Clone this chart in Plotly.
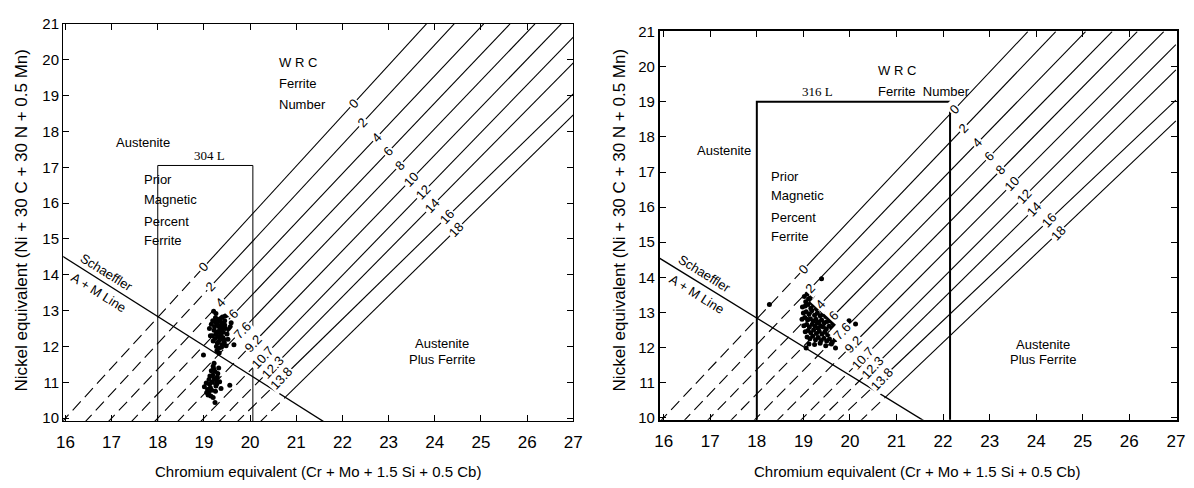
import plotly.graph_objects as go

# ---------------- data ----------------
# WRC iso-ferrite lines (shared by both panels)
fn_labels = ["0", "2", "4", "6", "8", "10", "12", "14", "16", "18"]
mpf_labels = ["0", "2", "4", "6", "7.6", "9.2", "10.7", "12.3", "13.8", ""]
line_x_bottom = [16.0, 16.5, 17.0, 17.5, 18.0, 18.5, 19.0, 19.4, 19.8, 20.3]   # Cr eq where line meets Ni eq = 10
line_x_top = [23.82, 24.42, 25.06, 25.63, 26.17, 26.74, 27.0, 27.0, 27.0, 27.0]
line_y_top = [21.0, 21.0, 21.0, 21.0, 21.0, 21.0, 20.63, 19.91, 19.05, 18.46]
mpf_label_y = [14.22, 13.67, 13.22, 12.91, 12.46, 12.09, 11.69, 11.42, 11.10, 10.60]
fn_label_y = [18.78, 18.24, 17.83, 17.43, 17.06, 16.66, 16.30, 15.93, 15.62, 15.26]

# Schaeffler A + M line
schaeffler_x = [15.9, 21.6]
schaeffler_y = [14.55, 9.9]

# alloy composition boxes
box304_x = [18.0, 18.0, 20.06, 20.06]
box304_y = [9.9, 17.05, 17.05, 9.9]
box316_x = [18.0, 18.0, 22.15, 22.15]
box316_y = [9.9, 19.0, 19.0, 9.9]

# 304L measured welds (upper and lower clusters)
w304_x = [19.21, 19.51, 19.59, 19.65, 18.99, 19.12, 19.25, 19.30, 19.35, 19.40, 19.45,
          19.28, 19.33, 19.38, 19.42, 19.18, 19.22, 19.26, 19.31, 19.36, 19.41, 19.47,
          19.20, 19.24, 19.29, 19.34, 19.39, 19.44, 19.50, 19.16, 19.23, 19.27, 19.32,
          19.37, 19.43, 19.48, 19.55, 19.19, 19.25, 19.30, 19.35, 19.40, 19.46, 19.28,
          19.33, 19.38, 19.26, 19.31, 19.36, 19.42, 19.52, 19.14, 19.57, 19.45, 19.30,
          19.22, 19.56, 19.24, 19.01, 19.37, 19.10, 19.15, 19.20, 19.25, 19.30, 19.12,
          19.18, 19.22, 19.27, 19.32, 19.08, 19.14, 19.19, 19.24, 19.29, 19.05, 19.11,
          19.16, 19.21, 19.26, 19.09, 19.13, 19.17, 19.20, 19.34, 19.06, 19.28]
w304_y = [12.98, 12.88, 12.66, 12.05, 11.76, 12.50, 12.80, 12.75, 12.70, 12.82, 12.60,
          12.62, 12.55, 12.48, 12.40, 12.30, 12.45, 12.35, 12.42, 12.30, 12.25, 12.50,
          12.15, 12.22, 12.10, 12.18, 12.05, 12.12, 12.35, 12.62, 12.55, 12.00, 11.95,
          12.38, 12.20, 12.02, 12.45, 12.72, 12.68, 12.28, 12.58, 12.65, 12.85, 11.88,
          11.82, 11.98, 12.92, 12.12, 12.78, 12.55, 12.20, 12.30, 12.55, 12.72, 12.40,
          11.53, 10.92, 10.44, 10.88, 10.83, 10.70, 10.62, 10.58, 10.75, 11.25, 10.95,
          11.00, 11.10, 11.05, 11.40, 10.80, 10.85, 11.20, 11.30, 11.15, 10.98, 11.08,
          11.32, 11.38, 10.90, 10.65, 11.18, 10.78, 11.45, 11.02, 10.72, 10.96]

# 316L measured welds
w316_x = [18.27, 19.39, 20.12, 19.98, 19.94, 19.06, 19.69,
          19.02, 19.08, 19.14, 19.20, 19.26, 19.05, 19.11, 19.17, 19.23, 19.29, 19.35,
          18.98, 19.04, 19.10, 19.16, 19.22, 19.28, 19.34, 19.40, 19.46,
          19.00, 19.06, 19.12, 19.18, 19.24, 19.30, 19.36, 19.42, 19.48, 19.54,
          18.97, 19.03, 19.09, 19.15, 19.21, 19.27, 19.33, 19.39, 19.45, 19.51, 19.57, 19.63,
          19.01, 19.07, 19.13, 19.19, 19.25, 19.31, 19.37, 19.43, 19.49, 19.55, 19.61, 19.67, 19.73,
          19.04, 19.10, 19.16, 19.22, 19.28, 19.34, 19.40, 19.46, 19.52, 19.58, 19.64, 19.70, 19.78, 19.85,
          19.08, 19.14, 19.20, 19.26, 19.32, 19.38, 19.44, 19.50, 19.56, 19.62, 19.68, 19.75,
          19.12, 19.24, 19.36, 19.48, 19.60, 19.72, 19.82, 19.90, 19.30, 19.55]
w316_y = [13.22, 13.96, 12.67, 12.76, 12.30, 11.98, 11.98,
          13.45, 13.52, 13.40, 13.48, 13.35, 13.30, 13.38, 13.28, 13.32, 13.25, 13.20,
          13.15, 13.18, 13.22, 13.12, 13.20, 13.10, 13.14, 13.05, 13.00,
          12.98, 13.02, 12.95, 13.05, 12.92, 12.98, 12.90, 12.94, 12.88, 12.85,
          12.80, 12.85, 12.78, 12.82, 12.75, 12.80, 12.72, 12.78, 12.70, 12.74, 12.76, 12.68,
          12.62, 12.65, 12.58, 12.66, 12.60, 12.55, 12.62, 12.58, 12.52, 12.60, 12.55, 12.62, 12.58,
          12.45, 12.48, 12.42, 12.50, 12.40, 12.46, 12.38, 12.44, 12.36, 12.42, 12.45, 12.48, 12.55, 12.62,
          12.30, 12.25, 12.32, 12.22, 12.28, 12.20, 12.26, 12.18, 12.24, 12.15, 12.22, 12.35,
          12.10, 12.08, 12.12, 12.05, 12.10, 12.28, 12.40, 12.52, 12.70, 12.90]

x_ticks = list(range(16, 28))
y_ticks = list(range(10, 22))
x_title = "Chromium equivalent (Cr + Mo + 1.5 Si + 0.5 Cb)"
y_title = "Nickel equivalent (Ni + 30 C + 30 N + 0.5 Mn)"

# ---------------- figure ----------------
W, H = 1194, 488
SANS = "Liberation Sans, Arial"
SERIF = "Liberation Serif, Times New Roman"


def x_on_line(k, y):
    return line_x_bottom[k] + (y - 10.0) * (line_x_top[k] - line_x_bottom[k]) / (line_y_top[k] - 10.0)


fig = go.Figure()
annotations = []

panels = [
    dict(xa="x", ya="y", px=w304_x, py=w304_y, bx=box304_x, by=box304_y, bw=1.0, name="304 L",
         name_pos=(19.13, 17.32), wrc=[("W R C", 20.59, 19.91), ("Ferrite", 20.59, 19.35), ("Number", 20.59, 18.76)],
         aus=(17.69, 17.70), prior_x=17.66, prior_y=[16.66, 16.11, 15.50, 14.97],
         apf=(24.15, 12.09, 11.64), sch=[(16.89, 14.06), (16.72, 13.52)],
         dom_x=[57 / W, 574 / W], dom_y=[1 - 425.7 / H, 1 - 16 / H], rx=[15.953, 27.0], ry=[9.908, 21.01],
         xt_x=315.5, yt_x=15, lw=1.4),
    dict(xa="x2", ya="y2", px=w316_x, py=w316_y, bx=box316_x, by=box316_y, bw=2.0, name="316 L",
         name_pos=(19.3, 19.3), wrc=[("W R C", 20.56, 19.90), ("Ferrite  Number", 20.56, 19.30)],
         aus=(17.3, 17.62), prior_x=18.26, prior_y=[16.86, 16.33, 15.71, 15.16],
         apf=(24.15, 12.07, 11.66), sch=[(16.87, 14.1), (16.72, 13.52)],
         dom_x=[661.7 / W, 1185.7 / W], dom_y=[1 - 424 / H, 1 - 24 / H], rx=[15.917, 27.02], ry=[9.936, 21.01],
         xt_x=922, yt_x=621, lw=1.8),
]

for i, p in enumerate(panels):
    xa, ya = p["xa"], p["ya"]
    common = dict(xaxis=xa, yaxis=ya, showlegend=False, hoverinfo="skip")
    dx, dy, sx, sy = [], [], [], []
    for k in range(len(line_x_bottom)):
        xm = x_on_line(k, mpf_label_y[k])
        dx += [x_on_line(k, 9.85), xm, None]
        dy += [9.85, mpf_label_y[k], None]
        sx += [xm, line_x_top[k], None]
        sy += [mpf_label_y[k], line_y_top[k], None]
    fig.add_trace(go.Scatter(x=dx, y=dy, mode="lines",
                             line=dict(color="black", width=1.1, dash="12px,6px"), **common))
    fig.add_trace(go.Scatter(x=sx, y=sy, mode="lines", line=dict(color="black", width=1.1), **common))
    fig.add_trace(go.Scatter(x=schaeffler_x, y=schaeffler_y, mode="lines",
                             line=dict(color="black", width=1.4), **common))
    fig.add_trace(go.Scatter(x=p["bx"], y=p["by"], mode="lines",
                             line=dict(color="black", width=p["bw"]), **common))
    fig.add_trace(go.Scatter(x=p["px"], y=p["py"], mode="markers",
                             marker=dict(color="black", size=5, line=dict(width=0)), **common))

    # line labels
    for k in range(len(line_x_bottom)):
        if mpf_labels[k]:
            annotations.append(dict(x=x_on_line(k, mpf_label_y[k]), y=mpf_label_y[k], xref=xa, yref=ya,
                                    text=mpf_labels[k], showarrow=False, textangle=-47,
                                    bgcolor="white", borderpad=1,
                                    font=dict(family=SANS, size=13, color="black")))
        annotations.append(dict(x=x_on_line(k, fn_label_y[k]), y=fn_label_y[k], xref=xa, yref=ya,
                                text=fn_labels[k], showarrow=False, textangle=-47,
                                bgcolor="white", borderpad=1,
                                font=dict(family=SANS, size=13, color="black")))

    tf = dict(family=SANS, size=13, color="black")
    for txt, xx, yy in p["wrc"]:
        annotations.append(dict(x=xx, y=yy, xref=xa, yref=ya, text=txt, showarrow=False,
                                xanchor="left", font=tf))
    annotations.append(dict(x=p["aus"][0], y=p["aus"][1], xref=xa, yref=ya, text="Austenite",
                            showarrow=False, font=tf))
    for txt, yy in zip(["Prior", "Magnetic", "Percent", "Ferrite"], p["prior_y"]):
        annotations.append(dict(x=p["prior_x"], y=yy, xref=xa, yref=ya, text=txt, showarrow=False,
                                xanchor="left", font=tf))
    annotations.append(dict(x=p["apf"][0], y=p["apf"][1], xref=xa, yref=ya, text="Austenite",
                            showarrow=False, font=tf))
    annotations.append(dict(x=p["apf"][0], y=p["apf"][2], xref=xa, yref=ya, text="Plus Ferrite",
                            showarrow=False, font=tf))
    annotations.append(dict(x=p["name_pos"][0], y=p["name_pos"][1], xref=xa, yref=ya, text=p["name"],
                            showarrow=False, font=dict(family=SERIF, size=13, color="black")))
    annotations.append(dict(x=p["sch"][0][0], y=p["sch"][0][1], xref=xa, yref=ya, text="Schaeffler",
                            showarrow=False, textangle=32, font=tf))
    annotations.append(dict(x=p["sch"][1][0], y=p["sch"][1][1], xref=xa, yref=ya, text="A + M Line",
                            showarrow=False, textangle=32, font=tf))

    # axis titles
    annotations.append(dict(x=p["xt_x"] / W, y=1 - 477 / H, xref="paper", yref="paper", text=x_title,
                            showarrow=False, xanchor="center", yanchor="middle",
                            font=dict(family=SANS, size=15, color="black")))
    annotations.append(dict(x=p["yt_x"] / W, y=1 - 218 / H, xref="paper", yref="paper", text=y_title,
                            showarrow=False, textangle=-90, xanchor="center", yanchor="middle",
                            font=dict(family=SANS, size=17, color="black")))

    ax_common = dict(showline=True, linecolor="black", mirror="ticks", ticks="inside", ticklen=6,
                     tickcolor="black", tickwidth=1.2, showgrid=False, zeroline=False, fixedrange=True)
    xkey = "xaxis" if i == 0 else "xaxis2"
    ykey = "yaxis" if i == 0 else "yaxis2"
    fig.update_layout(**{
        xkey: dict(domain=p["dom_x"], range=p["rx"], anchor=ya, tickvals=x_ticks, ticklabelstandoff=5,
                   tickfont=dict(family=SANS, size=17, color="black"), linewidth=p["lw"], **ax_common),
        ykey: dict(domain=p["dom_y"], range=p["ry"], anchor=xa, tickvals=y_ticks,
                   tickfont=dict(family=SANS, size=15, color="black"), linewidth=p["lw"], **ax_common),
    })

fig.update_layout(width=W, height=H, margin=dict(l=0, r=0, t=0, b=0),
                  paper_bgcolor="white", plot_bgcolor="white", annotations=annotations,
                  showlegend=False)

fig.write_html("out.html")
